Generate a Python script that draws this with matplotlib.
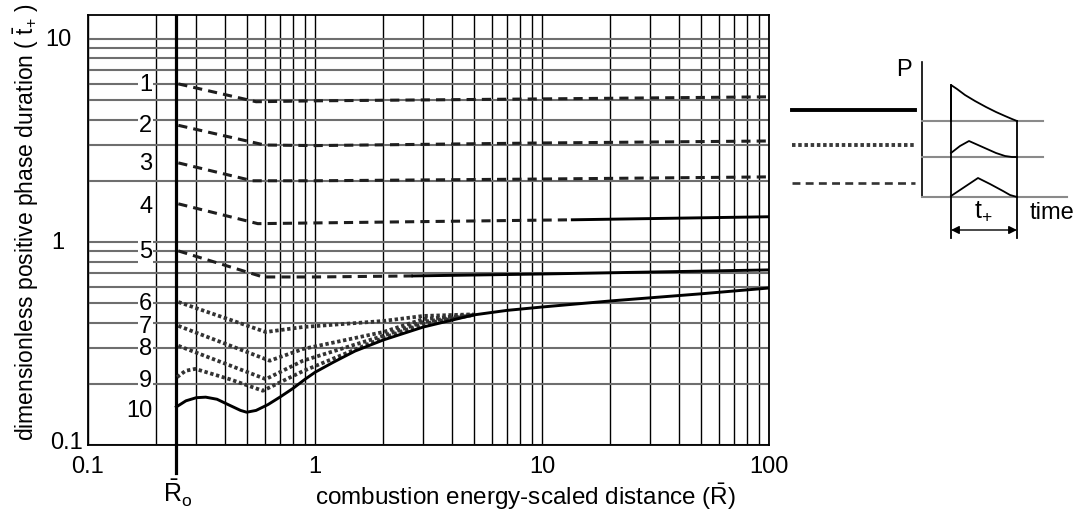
import numpy as np
import matplotlib
matplotlib.use('Agg')
import matplotlib.pyplot as plt
from matplotlib.ticker import LogLocator, NullFormatter, FixedLocator
import matplotlib.transforms as mtransforms

plt.rcParams['font.family'] = ['Liberation Sans', 'DejaVu Sans']
plt.rcParams['mathtext.fontset'] = 'custom'
plt.rcParams['mathtext.rm'] = 'Liberation Sans'
plt.rcParams['mathtext.it'] = 'Liberation Sans:italic'
plt.rcParams['mathtext.bf'] = 'Liberation Sans:bold'

# ---------------- data ----------------
R0 = 0.245

# dashed curves 1-5 (pressure-wave type)
c1_x = [0.25, 0.55, 1.0, 10, 100]
c1_y = [6.0, 4.9, 4.95, 5.06, 5.18]
c2_x = [0.25, 0.60, 1.0, 10, 100]
c2_y = [3.75, 3.0, 2.98, 3.07, 3.14]
c3_x = [0.25, 0.53, 1.0, 10, 100]
c3_y = [2.45, 2.0, 2.0, 2.04, 2.09]
c4_x = [0.25, 0.56, 1.0, 10, 13.6, 100]
c4_y = [1.54, 1.23, 1.24, 1.28, 1.285, 1.33]
c4_solid_from = 4          # index where the curve becomes solid
c5_x = [0.25, 0.59, 1.0, 2.7, 10, 100]
c5_y = [0.903, 0.672, 0.672, 0.68, 0.695, 0.728]
c5_solid_from = 3

# hatched curves 6-9
c6_x = [0.25, 0.607, 0.885, 2.0, 3.0, 5.0]
c6_y = [0.506, 0.36, 0.381, 0.408, 0.432, 0.44]
c7_x = [0.25, 0.632, 0.885, 2.0, 3.0, 5.0]
c7_y = [0.386, 0.26, 0.297, 0.36, 0.417, 0.437]
c8_x = [0.25, 0.607, 0.885, 2.0, 3.0, 5.0]
c8_y = [0.308, 0.211, 0.26, 0.345, 0.404, 0.437]
c9_x = [0.247, 0.269, 0.297, 0.42, 0.589, 0.885, 2.0, 3.0, 5.0]
c9_y = [0.216, 0.232, 0.237, 0.211, 0.185, 0.231, 0.337, 0.395, 0.437]

# solid curve 10 (shock type)
c10_x = [0.245, 0.27, 0.30, 0.33, 0.37, 0.42, 0.47, 0.50, 0.55, 0.62, 0.70,
         0.80, 0.90, 1.0, 1.2, 1.5, 2.0, 3.0, 5.0, 7.0, 10, 20, 50, 100]
c10_y = [0.154, 0.165, 0.171, 0.172, 0.168, 0.157, 0.148, 0.145, 0.148, 0.158,
         0.172, 0.19, 0.21, 0.228, 0.255, 0.29, 0.329, 0.381, 0.437, 0.46,
         0.478, 0.512, 0.555, 0.593]

curve_labels = ['1', '2', '3', '4', '5', '6', '7', '8', '9', '10']
label_y = [5.9, 3.72, 2.42, 1.49, 0.893, 0.495, 0.381, 0.297, 0.207, 0.147]

x_ticks = [0.1, 1, 10, 100]
x_ticklabels = ['0.1', '1', '10', '100']
y_ticks = [0.1, 1, 10]
y_ticklabels = ['0.1', '1', '10']

# ---------------- figure ----------------
W, H = 1075, 511
FS = 17
fig = plt.figure(figsize=(W / 100, H / 100), dpi=100)
L, Rr, B, T = 88, 769, 445, 15
ax = fig.add_axes([L / W, 1 - B / H, (Rr - L) / W, (B - T) / H])
ax.set_xscale('log')
ax.set_yscale('log')
ax.set_xlim(0.1, 100)
ax.set_ylim(0.1, 13.1)

ax.xaxis.set_major_locator(FixedLocator(x_ticks))
ax.set_xticklabels(x_ticklabels)
ax.xaxis.set_minor_locator(LogLocator(base=10, subs=np.arange(2, 10)))
ax.xaxis.set_minor_formatter(NullFormatter())
ax.yaxis.set_major_locator(FixedLocator(y_ticks))
ax.set_yticklabels([])
ax.yaxis.set_minor_locator(LogLocator(base=10, subs=np.arange(2, 10)))
ax.yaxis.set_minor_formatter(NullFormatter())
ax.tick_params(which='both', length=0)
ax.tick_params(axis='x', labelsize=FS, pad=8)
for lbl in ax.get_xticklabels():
    if lbl.get_text() == '0.1':
        lbl.set_x(0.107)

ax.grid(True, which='both', axis='y', color='#6e6e6e', lw=1.5, zorder=0)
ax.grid(True, which='both', axis='x', color='black', lw=1.0, zorder=0)
ax.set_axisbelow(True)
for s in ax.spines.values():
    s.set_linewidth(1.3)
    s.set_color('black')

# y tick labels (centered, as in the original)
ytr = mtransforms.blended_transform_factory(ax.transAxes, ax.transData)
for v, t in zip(y_ticks, y_ticklabels):
    xx = -0.031 if t == '0.1' else -0.044
    ax.text(xx, v * (1.02 if t == '0.1' else 0.99), t, transform=ytr,
            ha='center', va='center', fontsize=FS)

# R0 line, extended below the axis
ax.axvline(R0, color='black', lw=2.3, zorder=2)
ax.plot([R0, R0], [0, -0.065], transform=ax.get_xaxis_transform(),
        color='black', lw=2.3, clip_on=False, zorder=2)

dash_kw = dict(color='#1e1e1e', lw=2.2, linestyle=(0, (3.0, 2.0)), zorder=4)
hatch_kw = dict(color='#333333', lw=2.7, linestyle=(0, (0.9, 0.7)), zorder=4)
solid_kw = dict(color='black', lw=2.1, zorder=5)

ax.plot(c1_x, c1_y, **dash_kw)
ax.plot(c2_x, c2_y, **dash_kw)
ax.plot(c3_x, c3_y, **dash_kw)
ax.plot(c4_x[:c4_solid_from + 1], c4_y[:c4_solid_from + 1], **dash_kw)
ax.plot(c4_x[c4_solid_from:], c4_y[c4_solid_from:], **solid_kw)
ax.plot(c5_x[:c5_solid_from + 1], c5_y[:c5_solid_from + 1], **dash_kw)
ax.plot(c5_x[c5_solid_from:], c5_y[c5_solid_from:], **solid_kw)
for cx, cy in [(c6_x, c6_y), (c7_x, c7_y), (c8_x, c8_y), (c9_x, c9_y)]:
    ax.plot(cx, cy, **hatch_kw)
ax.plot(c10_x, c10_y, **solid_kw)

for lab, yv in zip(curve_labels, label_y):
    ax.text(0.192, yv, lab, ha='right', va='center', fontsize=FS, zorder=6,
            bbox=dict(boxstyle='square,pad=0.05', fc='white', ec='none'))

# axis labels
fig.text(525 / W, 1 - 497 / H, r'combustion energy-scaled distance ($\bar{\mathrm{R}}$)',
         ha='center', va='center', fontsize=17.5)
fig.text(26 / W, 1 - 222 / H,
         r'dimensionless positive phase duration ( $\bar{\mathrm{t}}_{+}$ )',
         ha='center', va='center', rotation=90, fontsize=16.5)
fig.text(178 / W, 1 - 493 / H, r'$\bar{\mathrm{R}}_{\mathrm{o}}$',
         ha='center', va='center', fontsize=18)

# ---------------- right-hand schematic (pixel coordinates) ----------------
sk = fig.add_axes([0, 0, 1, 1], zorder=10)
sk.set_xlim(0, W)
sk.set_ylim(H, 0)
sk.axis('off')
sk.patch.set_alpha(0)

leg_x = [792, 915]
sk.plot(leg_x, [110, 110], color='black', lw=2.8)
sk.plot(leg_x, [145, 145], color='#3a3a3a', lw=2.8, linestyle=(0, (0.9, 0.7)))
sk.plot(leg_x, [183, 183], color='#333333', lw=1.9, linestyle=(0, (3.0, 2.0)))

sk.plot([922, 922], [62, 197], color='black', lw=1.2)
base_y = [121, 157, 197]
base_x_end = [1043, 1043, 1067]
for by, bx in zip(base_y, base_x_end):
    sk.plot([922, bx], [by, by], color='#8a8a8a', lw=1.5)

w1_x = [951, 951, 957, 965, 975, 986, 996, 1005, 1012, 1017]
w1_y = [121, 85, 89, 95, 101, 107, 112, 116, 119, 121]
w2_x = [951, 960, 969, 978, 987, 996, 1005, 1012, 1017]
w2_y = [153, 146, 141, 145, 149, 153, 156, 157, 157]
w3_x = [951, 978, 990, 1003, 1010, 1017]
w3_y = [196, 178, 184, 191, 195, 197]
sk.plot(w1_x, w1_y, color='black', lw=1.3)
sk.plot(w2_x, w2_y, color='black', lw=1.3)
sk.plot(w3_x, w3_y, color='black', lw=1.3)
sk.plot([951, 951], [85, 238], color='black', lw=1.3)
sk.plot([1017, 1017], [121, 238], color='black', lw=1.3)
sk.annotate('', xy=(951, 230), xytext=(1017, 230),
            arrowprops=dict(arrowstyle='<|-|>', color='black', lw=1.0,
                            mutation_scale=12, shrinkA=0, shrinkB=0))
sk.text(983, 211, r'$\mathrm{t}_{+}$', ha='center', va='center', fontsize=18)
sk.text(1052, 213, 'time', ha='center', va='center', fontsize=17)
sk.text(904, 70, 'P', ha='center', va='center', fontsize=17)

fig.savefig('out.png', dpi=100, facecolor='white')
